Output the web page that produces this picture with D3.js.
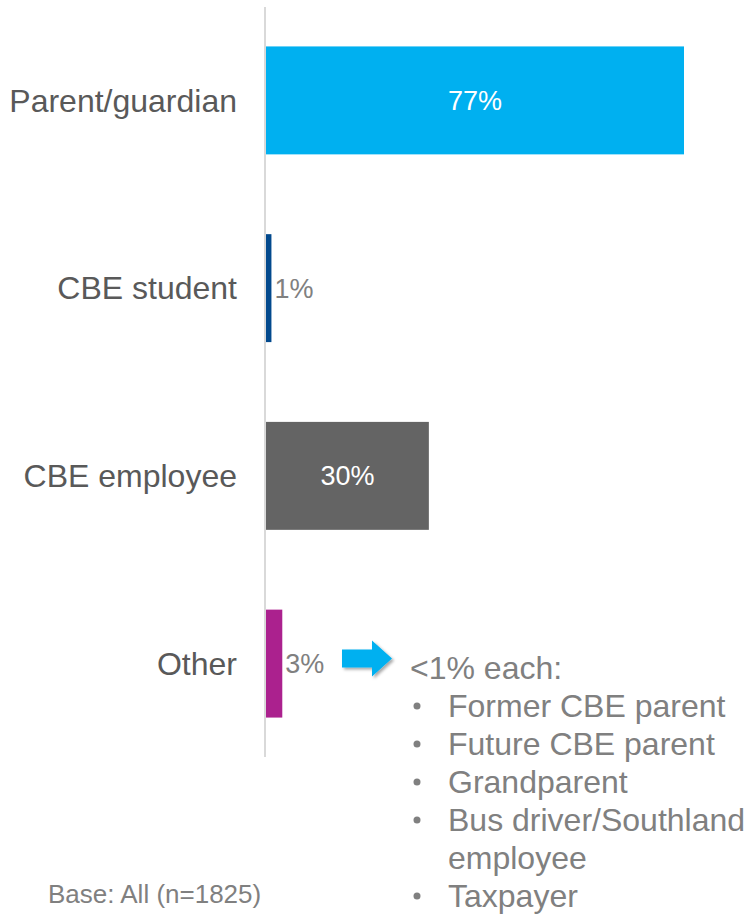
<!DOCTYPE html>
<html>
<head>
<meta charset="utf-8">
<script src="https://cdn.jsdelivr.net/npm/d3@7"></script>
<style>
  body { margin: 0; background: #fff; }
  text { font-family: "Liberation Sans", Arial, sans-serif; }
</style>
</head>
<body>
<div class="chart"></div>
<script>
var width = 745, height = 914;

// data
var categories = ['Parent/guardian', 'CBE student', 'CBE employee', 'Other'];
var values = [77, 1, 30, 3];
var barColours = ['#00b0f0', '#02498d', '#646464', '#ab218e'];
var otherHeading = '<1% each:';
var otherItems = ['Former CBE parent', 'Future CBE parent', 'Grandparent', 'Bus driver/Southland', 'employee', 'Taxpayer'];
var baseNote = 'Base: All (n=1825)';

var svg = d3.select('.chart')
    .append('svg')
    .attr('width', width)
    .attr('height', height);

var x = d3.scaleLinear()
    .domain([0, 77])
    .range([266, 684]);

var y = d3.scaleBand()
    .domain(categories)
    .range([7, 757])
    .paddingInner(0.425)
    .paddingOuter(0.21);

var data = categories.map(function (c, i) {
    return { cat: c, value: values[i], colour: barColours[i] };
});

// bars
svg.selectAll('rect.bar')
    .data(data)
    .enter()
    .append('rect')
    .attr('class', 'bar')
    .attr('x', x(0))
    .attr('y', d => y(d.cat))
    .attr('width', d => x(d.value) - x(0))
    .attr('height', y.bandwidth())
    .attr('fill', d => d.colour);

// axis line
svg.append('line')
    .attr('x1', x(0) - 1).attr('x2', x(0) - 1)
    .attr('y1', y.range()[0]).attr('y2', y.range()[1])
    .attr('stroke', '#d9d9d9')
    .attr('stroke-width', 2);

// category labels
svg.selectAll('text.cat')
    .data(data)
    .enter()
    .append('text')
    .attr('class', 'cat')
    .attr('x', 237)
    .attr('y', d => y(d.cat) + y.bandwidth() / 2)
    .attr('dy', '0.35em')
    .attr('text-anchor', 'end')
    .attr('fill', '#595959')
    .style('font-size', '32px')
    .text(d => d.cat);

// value labels: inside for wide bars, outside for thin ones
svg.selectAll('text.val')
    .data(data)
    .enter()
    .append('text')
    .attr('class', 'val')
    .attr('x', d => d.value > 10 ? (x(0) + x(d.value)) / 2 : x(d.value) + 3)
    .attr('y', d => y(d.cat) + y.bandwidth() / 2)
    .attr('dy', '0.35em')
    .attr('text-anchor', d => d.value > 10 ? 'middle' : 'start')
    .attr('fill', d => d.value > 10 ? '#ffffff' : '#808080')
    .style('font-size', '27px')
    .text(d => d.value + '%');

// arrow with shadow
var defs = svg.append('defs');
var filt = defs.append('filter').attr('id', 'shadow')
    .attr('x', '-20%').attr('y', '-20%').attr('width', '150%').attr('height', '150%');
filt.append('feDropShadow')
    .attr('dx', 2).attr('dy', 2).attr('stdDeviation', 1.5)
    .attr('flood-color', '#000').attr('flood-opacity', 0.35);

var ay = y('Other') + y.bandwidth() / 2 - 5;
svg.append('path')
    .attr('d', 'M342,' + (ay - 9) + 'H372V' + (ay - 18) + 'L392,' + ay +
        'L372,' + (ay + 18) + 'V' + (ay + 9) + 'H342Z')
    .attr('fill', '#00b0f0')
    .attr('filter', 'url(#shadow)');

// list of other answers
var listTop = 668, lineH = 38;
svg.append('text')
    .attr('x', 410)
    .attr('y', listTop)
    .attr('dy', '0.35em')
    .attr('fill', '#808080')
    .style('font-size', '32px')
    .text(otherHeading);

otherItems.forEach(function (item, i) {
    var yy = listTop + (i + 1) * lineH;
    if (item !== 'employee') {
        svg.append('circle')
            .attr('cx', 417).attr('cy', yy)
            .attr('r', 3.5)
            .attr('fill', '#808080');
    }
    svg.append('text')
        .attr('x', 448)
        .attr('y', yy)
        .attr('dy', '0.35em')
        .attr('fill', '#808080')
        .style('font-size', '32px')
        .text(item);
});

// base note
svg.append('text')
    .attr('x', 48)
    .attr('y', 894)
    .attr('dy', '0.35em')
    .attr('fill', '#808080')
    .style('font-size', '26px')
    .text(baseNote);
</script>
</body>
</html>
